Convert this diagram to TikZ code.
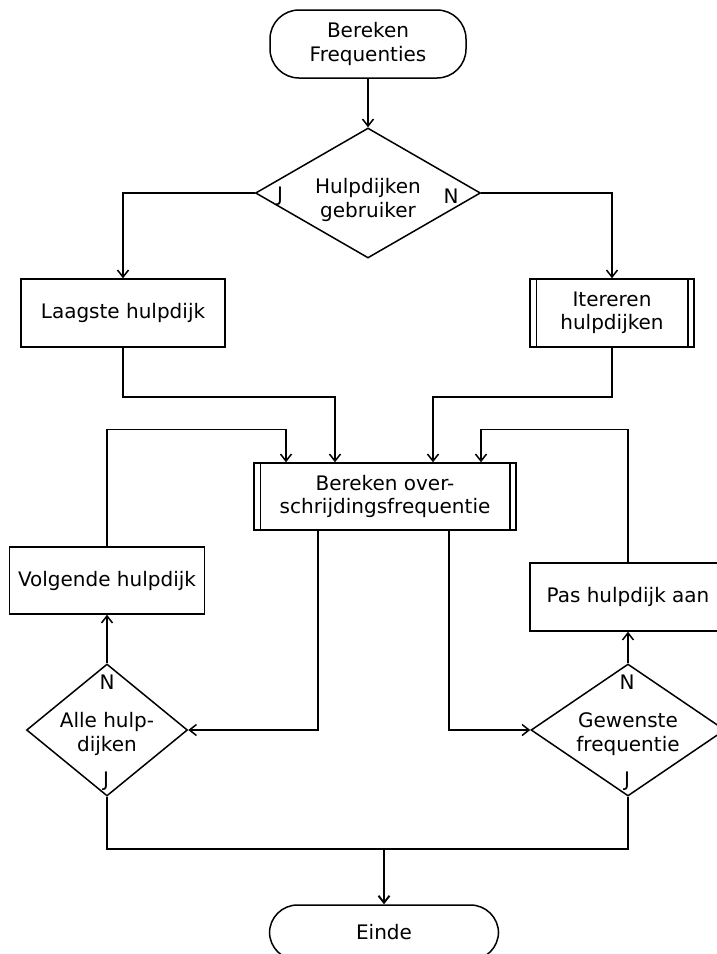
\documentclass[tikz,border=0pt]{standalone}
\usepackage{fontspec}
\setmainfont{DejaVu Sans}
\usetikzlibrary{arrows.meta,shapes.geometric}

\begin{document}
\begin{tikzpicture}[x=1pt,y=-1pt,line width=1.5pt,
  font=\fontsize{20}{23.5}\selectfont,
  every node/.style={inner sep=0pt,align=center},
  terminal/.style={draw,rectangle,rounded corners=29pt,minimum width=196pt,minimum height=68pt},
  procbox/.style={draw,rectangle,minimum height=68pt},
  decision/.style={draw,diamond,minimum height=132pt},
  branch/.style={font=\fontsize{20}{23.5}\selectfont},
  arr/.style={-{Straight Barb[length=7pt,width=11pt]}},
]
\useasboundingbox (0,0) rectangle (717,954);

% start
\node[terminal] (start) at (368,44) {Bereken\\Frequenties};

% first decision
\node[decision,minimum width=225pt,minimum height=130pt] (d1) at (368,193) {};
\node (d1t) at (368,200) {Hulpdijken\\gebruiker};
\node[branch] (d1j) at (280,196) {J};
\node[branch] (d1n) at (451,196) {N};

% the two starting branches
\node[procbox,minimum width=204pt] (laag) at (123,313) {Laagste hulpdijk};
\node[procbox,minimum width=164pt] (iter) at (612,313) {Itereren\\hulpdijken};
\draw ([xshift=7pt]iter.north west) -- ([xshift=7pt]iter.south west);
\draw ([xshift=-7pt]iter.north east) -- ([xshift=-7pt]iter.south east);

% central computation
\node[procbox,minimum width=262pt,minimum height=67pt] (calc) at (385,496.5) {Bereken over-\\schrijdingsfrequentie};
\draw ([xshift=7pt]calc.north west) -- ([xshift=7pt]calc.south west);
\draw ([xshift=-7pt]calc.north east) -- ([xshift=-7pt]calc.south east);

% left loop
\node[procbox,minimum width=195pt,minimum height=67pt] (volg) at (107,580.5) {Volgende hulpdijk};
\node[decision,minimum width=161pt] (alle) at (107,730) {};
\node (allet) at (107,734) {Alle hulp-\\dijken};
\node[branch] (allen) at (107,682) {N};
\node[branch] (allej) at (106,781) {J};

% right loop
\node[procbox,minimum width=196pt] (pas) at (628,597) {Pas hulpdijk aan};
\node[decision,minimum width=194pt] (gew) at (628,730) {};
\node (gewt) at (628,734) {Gewenste\\frequentie};
\node[branch] (gewn) at (627,682) {N};
\node[branch] (gewj) at (627,781) {J};

% end
\node[terminal,minimum width=229pt,minimum height=55pt,rounded corners=28pt] (einde) at (384,932.5) {Einde};
\coordinate (merge) at (384,848);

% connectors
\draw[arr] (start.south) -- (d1.north);
\draw[arr] (d1.west) -| (laag.north);
\draw[arr] (d1.east) -| (iter.north);
\draw[arr] (laag.south) -- ++(0,49) -| ([xshift=-50pt]calc.north);
\draw[arr] (iter.south) -- ++(0,49) -| ([xshift=48pt]calc.north);
\draw[arr] (volg.north) -- ++(0,-117) -| ([xshift=-99pt]calc.north);
\draw[arr] (pas.north) -- ++(0,-133) -| ([xshift=96pt]calc.north);
\draw[arr] ([xshift=-67pt]calc.south) |- (alle.east);
\draw[arr] ([xshift=64pt]calc.south) |- (gew.west);
\draw[arr] (alle.north) -- (volg.south);
\draw[arr] (gew.north) -- (pas.south);
\draw (alle.south) -- ++(0,52) -| (gew.south);
\draw[arr,line width=1.9pt] (merge) -- (einde.north);
\end{tikzpicture}
\end{document}
